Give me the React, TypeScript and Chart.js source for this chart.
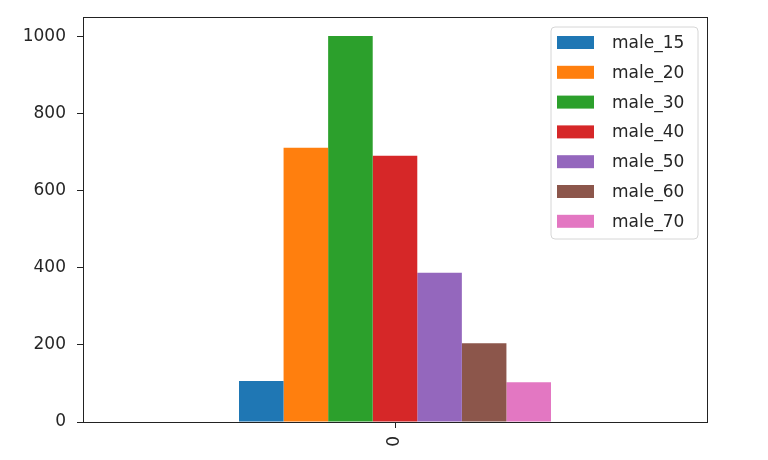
import React, { useEffect, useRef } from "react";
import { Chart, registerables } from "chart.js";

Chart.register(...registerables);

const categories = ["0"];
const seriesNames = ["male_15", "male_20", "male_30", "male_40", "male_50", "male_60", "male_70"];
const seriesValues = [106, 711, 1001, 690, 387, 204, 103];
const seriesColors = ["#1f77b4", "#ff7f0e", "#2ca02c", "#d62728", "#9467bd", "#8c564b", "#e377c2"];
const yTickValues = [0, 200, 400, 600, 800, 1000];
const yMax = 1050;

const FONT = "'DejaVu Sans', sans-serif";
const TEXT = "#262626";

const frameAndLegend = {
  id: "frameAndLegend",
  afterDraw(chart: any) {
    const { ctx, chartArea } = chart;
    ctx.save();
    ctx.strokeStyle = "#222";
    ctx.lineWidth = 1;
    ctx.strokeRect(
      Math.round(chartArea.left) + 0.5,
      Math.round(chartArea.top) + 0.5,
      Math.round(chartArea.right - chartArea.left),
      Math.round(chartArea.bottom - chartArea.top)
    );
    // legend
    const bx = 551, by = 27, bw = 147, bh = 212, r = 4;
    ctx.beginPath();
    ctx.moveTo(bx + r, by);
    ctx.lineTo(bx + bw - r, by);
    ctx.quadraticCurveTo(bx + bw, by, bx + bw, by + r);
    ctx.lineTo(bx + bw, by + bh - r);
    ctx.quadraticCurveTo(bx + bw, by + bh, bx + bw - r, by + bh);
    ctx.lineTo(bx + r, by + bh);
    ctx.quadraticCurveTo(bx, by + bh, bx, by + bh - r);
    ctx.lineTo(bx, by + r);
    ctx.quadraticCurveTo(bx, by, bx + r, by);
    ctx.closePath();
    ctx.fillStyle = "rgba(255,255,255,0.85)";
    ctx.fill();
    ctx.strokeStyle = "#d6d6d6";
    ctx.lineWidth = 1;
    ctx.stroke();
    ctx.font = `17px ${FONT}`;
    ctx.textBaseline = "middle";
    ctx.textAlign = "left";
    chart.data.datasets.forEach((ds: any, i: number) => {
      const cy = 42.5 + i * 29.8;
      ctx.fillStyle = ds.backgroundColor;
      ctx.fillRect(557, cy - 6.5, 37, 13);
      ctx.fillStyle = TEXT;
      ctx.fillText(ds.label, 612, cy + 1);
    });
    ctx.restore();
  },
};

export default function App() {
  const ref = useRef<HTMLCanvasElement | null>(null);
  useEffect(() => {
    if (!ref.current) return;
    const chart = new Chart(ref.current, {
      type: "bar",
      data: {
        labels: categories,
        datasets: seriesNames.map((name, i) => ({
          label: name,
          data: [seriesValues[i]],
          backgroundColor: seriesColors[i],
          borderWidth: 0,
          categoryPercentage: 0.5,
          barPercentage: 1,
        })),
      },
      options: {
        animation: false,
        responsive: false,
        devicePixelRatio: 1,
        layout: { padding: { left: 0, top: 17, right: 61, bottom: 0 } },
        plugins: { legend: { display: false }, tooltip: { enabled: false } },
        scales: {
          x: {
            offset: true,
            grid: { offset: false, drawOnChartArea: false, drawTicks: true, tickLength: 6, color: "#222" },
            border: { display: false },
            ticks: { color: TEXT, font: { family: FONT, size: 17 }, minRotation: 90, maxRotation: 90, padding: 8 },
            afterFit: (s: any) => { s.height = 38; s.paddingLeft = 0; s.paddingRight = 0; },
          },
          y: {
            min: 0,
            max: yMax,
            grid: { drawOnChartArea: false, drawTicks: true, tickLength: 6, color: "#222" },
            border: { display: false },
            ticks: {
              color: TEXT,
              font: { family: FONT, size: 17 },
              padding: 11,
              stepSize: 200,
              callback: (v: any) => String(v),
            },
            afterBuildTicks: (s: any) => { s.ticks = yTickValues.map((v) => ({ value: v })); },
            afterFit: (s: any) => { s.width = 83; s.paddingTop = 0; s.paddingBottom = 0; },
          },
        },
      },
      plugins: [frameAndLegend],
    });
    return () => chart.destroy();
  }, []);
  return (
    <div style={{ position: "fixed", left: 0, top: 0, width: 768, height: 460, background: "#fff" }}>
      <canvas ref={ref} width={768} height={460} style={{ width: 768, height: 460, display: "block" }} />
    </div>
  );
}
